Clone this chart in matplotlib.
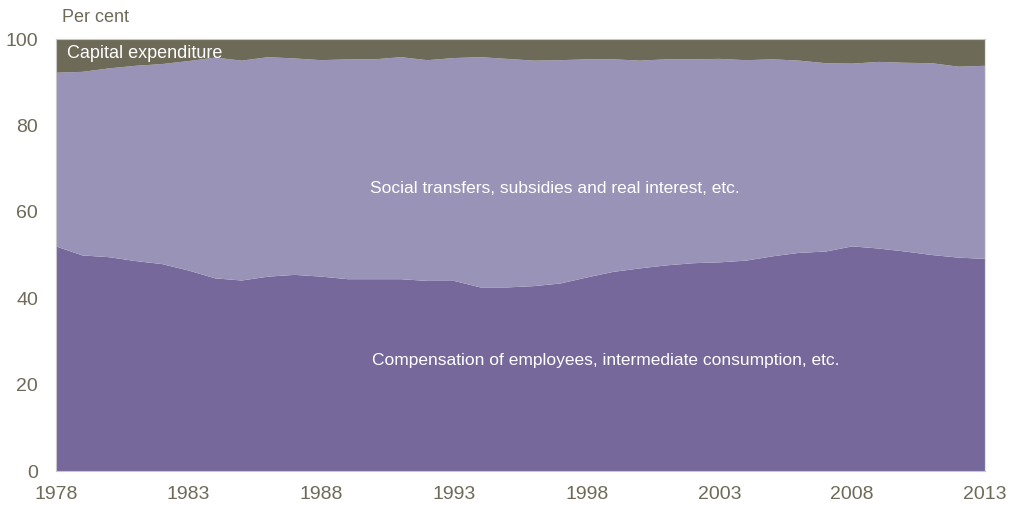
import matplotlib
matplotlib.use('Agg')
import matplotlib.pyplot as plt
import numpy as np

years = list(range(1978, 2014))

# compensation of employees, intermediate consumption etc. (bottom layer)
compensation = [52.0, 49.9, 49.5, 48.6, 47.9, 46.4, 44.6, 44.1, 45.0, 45.4,
                45.0, 44.4, 44.4, 44.4, 44.0, 44.0, 42.5, 42.5, 42.8, 43.4,
                44.8, 46.1, 46.9, 47.6, 48.1, 48.3, 48.7, 49.7, 50.5, 50.8,
                52.0, 51.5, 50.8, 50.0, 49.4, 49.1]

# cumulative top of social transfers layer
top_of_transfers = [92.2, 92.4, 93.2, 93.8, 94.2, 94.9, 95.7, 95.0, 95.8, 95.5,
                    95.1, 95.3, 95.3, 95.8, 95.1, 95.6, 95.8, 95.4, 95.0, 95.1,
                    95.3, 95.3, 95.0, 95.3, 95.3, 95.4, 95.1, 95.3, 95.0, 94.4,
                    94.3, 94.7, 94.5, 94.4, 93.6, 93.8]

transfers = [t - c for t, c in zip(top_of_transfers, compensation)]
capital = [100 - t for t in top_of_transfers]

xticks = [1978, 1983, 1988, 1993, 1998, 2003, 2008, 2013]
yticks = [0, 20, 40, 60, 80, 100]

col_comp = '#76689b'
col_trans = '#9a93b8'
col_cap = '#6d6a58'
col_text = '#6d6a58'

plt.rcParams['font.family'] = ['Liberation Sans Narrow', 'Liberation Sans', 'DejaVu Sans']

fig = plt.figure(figsize=(10.21, 5.08), dpi=100)
ax = fig.add_axes([0.0548, 0.0728, 0.9099, 0.8504])

ax.stackplot(years, compensation, transfers, capital,
             colors=[col_comp, col_trans, col_cap], linewidth=0)

ax.set_xlim(1978, 2013)
ax.set_ylim(0, 100)
ax.set_xticks(xticks)
ax.set_yticks(yticks)
ax.tick_params(axis='both', length=0, labelsize=14, colors=col_text)
ax.tick_params(axis='x', pad=11)
ax.tick_params(axis='y', pad=13)

for s in ['top', 'left', 'bottom']:
    ax.spines[s].set_color('#c8c8c8')
    ax.spines[s].set_linewidth(0.8)
ax.spines['right'].set_color('#e4e0f0')

ax.text(1978.4, 96.6, 'Capital expenditure', color='white', fontsize=13,
        va='center', ha='left')
ax.text(1996.8, 65.5, 'Social transfers, subsidies and real interest, etc.',
        color='white', fontsize=12.5, va='center', ha='center')
ax.text(1998.7, 25.5, 'Compensation of employees, intermediate consumption, etc.',
        color='white', fontsize=12.5, va='center', ha='center')

fig.text(62 / 1021, 1 - 18 / 508, 'Per cent', color=col_text, fontsize=13,
         va='center', ha='left')

fig.savefig('out.png', dpi=100)
